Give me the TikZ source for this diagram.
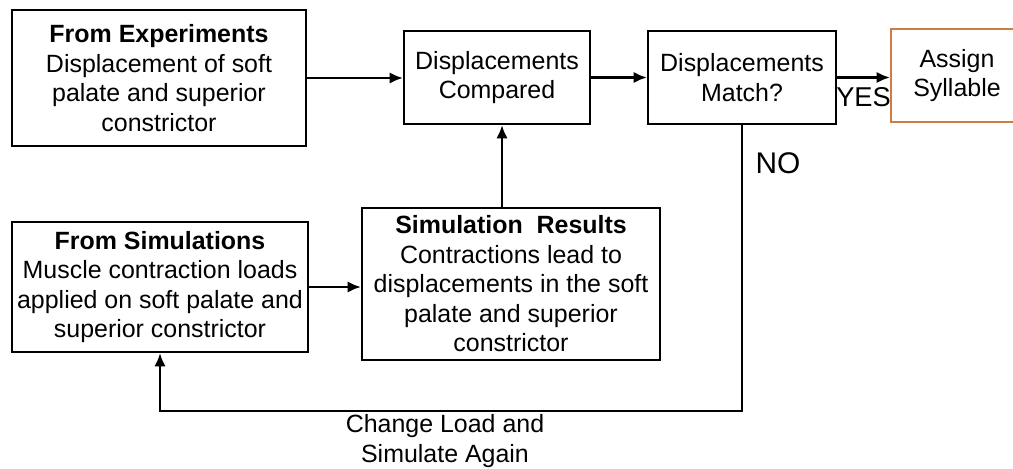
\documentclass[tikz,border=0pt]{standalone}
\usepackage{fontspec}
\setmainfont{Liberation Sans}
\usepackage{tikz}
\usetikzlibrary{arrows.meta}
\definecolor{assignorange}{RGB}{205,125,65}

\begin{document}
\begin{tikzpicture}[x=0.02cm,y=-0.02cm,line width=1.35pt,
    >={Latex[length=7.5pt,width=6.5pt]},
    box/.style={draw,rectangle,align=center,inner sep=0pt,
      font=\fontsize{14.2}{16.8}\selectfont},
    lbl/.style={align=center,font=\fontsize{14.2}{16.8}\selectfont}]
    \useasboundingbox (0,0) rectangle (1013,469);
    \draw
    (159,78) node[box,minimum width=5.88cm,minimum height=2.72cm](exp)
      {\textbf{From Experiments}\\Displacement of soft\\palate and superior\\constrictor}
    (497,77.5) node[box,minimum width=3.72cm,minimum height=1.86cm](cmp)
      {Displacements\\Compared}
    (742,77.5) node[box,minimum width=3.76cm,minimum height=1.86cm](match)
      {Displacements\\Match?}
    (957,75.5) node[box,draw=assignorange,minimum width=2.64cm,minimum height=1.86cm](assign)
      {Assign\\Syllable}
    (160,287) node[box,minimum width=5.92cm,minimum height=2.6cm](sim)
      {\textbf{From Simulations}\\Muscle contraction loads\\applied on soft palate and\\superior constrictor}
    (511,284) node[box,minimum width=5.96cm,minimum height=3.04cm](res)
      {\textbf{Simulation\ \ Results}\\Contractions lead to\\displacements in the soft\\palate and superior\\constrictor};
    \coordinate (up) at (502,0);
    \coordinate (back) at (0,411);
    \draw[->] (exp.east) -- (exp.east -| cmp.west);
    \draw[->] (cmp.east) -- (cmp.east -| match.west);
    \draw[->] (match.east) -- (match.east -| assign.west)
      node[midway,below=5pt,inner sep=0pt,font=\fontsize{15.5}{18}\selectfont](yes) {YES};
    \draw[->] (sim.east) -- (sim.east -| res.west);
    \draw[->] (res.north -| up) -- (cmp.south -| up);
    \draw[->] (match.south) |- (back -| sim.south) -- (sim.south);
    \draw
    (778,163) node[font=\fontsize{17}{20}\selectfont](no) {NO}
    (445,441) node[lbl](change) {Change Load and\\Simulate Again};
  \end{tikzpicture}
\end{document}
